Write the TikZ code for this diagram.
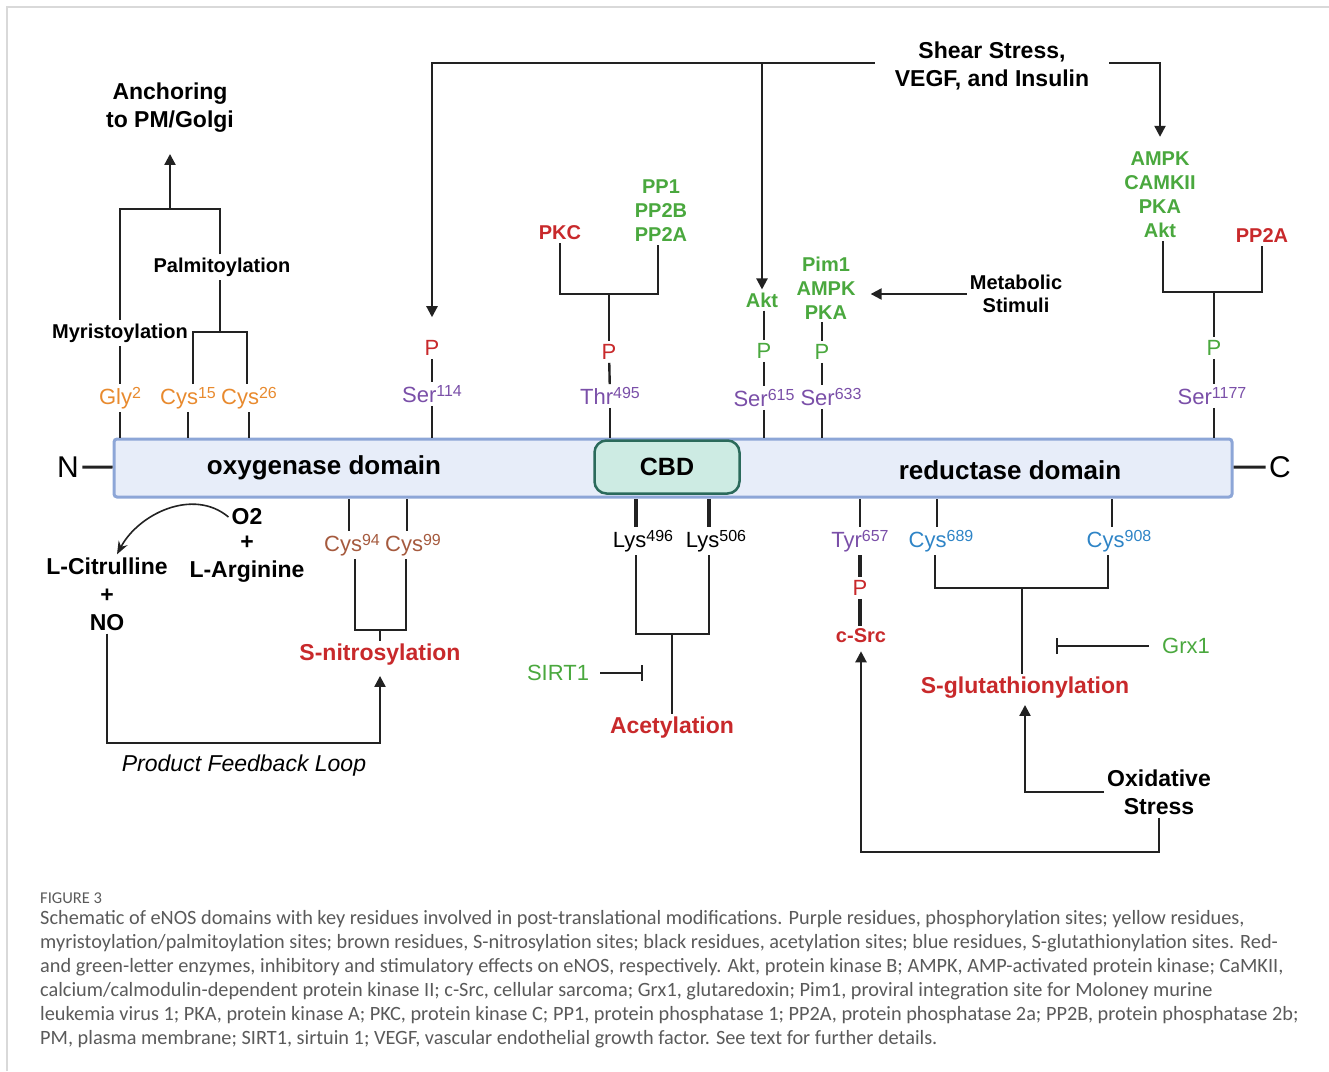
\documentclass[tikz,border=0pt]{standalone}
\usepackage{fontspec}
\setmainfont{Liberation Sans}
\newfontfamily\capfont{Carlito}
\usetikzlibrary{positioning, arrows.meta}
\definecolor{ink}{HTML}{222222}
\definecolor{ptmred}{HTML}{C8292B}
\definecolor{ptmgreen}{HTML}{4AA83E}
\definecolor{ptmpurple}{HTML}{7A4FA8}
\definecolor{ptmorange}{HTML}{E88A2E}
\definecolor{ptmbrown}{HTML}{A55A3E}
\definecolor{ptmblue}{HTML}{2E84C6}
\definecolor{barfill}{HTML}{E7EDF9}
\definecolor{barline}{HTML}{8DA6D7}
\definecolor{cbdfill}{HTML}{CDEBE3}
\definecolor{cbdline}{HTML}{2B6A5B}
\definecolor{capgray}{HTML}{5A5A5A}
\newcommand{\rsup}[1]{\raisebox{6pt}{\fontsize{16}{16}\selectfont #1}}
\tikzset{
>={Triangle[length=11pt,width=11pt]}, % filled arrow heads
link/.style={draw=ink, line width=2.2pt}, % brackets and arrows
tick/.style={draw=ink, line width=2.4pt}, % short ticks at the residues
fat/.style={draw=ink, line width=4.6pt}, % thick ticks
inh/.style={draw=ink, line width=2.2pt, -{Bar[width=16pt]}}, % inhibition
lab/.style={font=\fontsize{20}{24}\selectfont\bfseries, align=center, inner sep=3pt}, % enzymes
head/.style={font=\fontsize{23}{28}\selectfont\bfseries, align=center, inner sep=3pt}, % headings
res/.style={font=\fontsize{22}{24}\selectfont, inner sep=3pt}, % residues and P
}
\begin{document}
\begin{tikzpicture}[x=1pt, y=-1pt]
\useasboundingbox (0,0) rectangle (1329,1071);
\draw[black!15, line width=1.2pt] (7,1071) -- (7,7) -- (1329,7);

% protein
\node[draw=barline, fill=barfill, line width=3pt, rounded corners=3pt, minimum width=1118pt, minimum height=58pt] (bar) at (673,468) {};
\node[draw=cbdline, fill=cbdfill, line width=2.5pt, rounded corners=12pt, minimum width=145pt, minimum height=53pt, font=\fontsize{25}{25}\selectfont\bfseries] (cbd) at (667,467) {CBD};
\node[font=\fontsize{26}{26}\selectfont\bfseries] (oxy) at (324,468) {oxygenase domain};
\node[font=\fontsize{26}{26}\selectfont\bfseries] (red) at (1010,470) {reductase domain};
\node[font=\fontsize{30}{30}\selectfont] (nterm) at (68,467) {N};
\node[font=\fontsize{30}{30}\selectfont] (cterm) at (1280,467) {C};
\draw[link, line width=3pt] (nterm) -- (bar);
\draw[link, line width=3pt] (bar) -- (cterm);

% myristoylation / palmitoylation
\node[head] (anch) at (170,108) {Anchoring\\to PM/Golgi};
\node[lab] (myr) at (120,333) {Myristoylation};
\node[lab] (pal) at (222,267) {Palmitoylation};
\node[res, text=ptmorange] (gly2) at (120,398) {Gly\rsup{2}};
\node[res, text=ptmorange] (cys15) at (188,398) {Cys\rsup{15}};
\node[res, text=ptmorange] (cys26) at (249,398) {Cys\rsup{26}};
\coordinate (palb) at (220,332);
\coordinate (anj) at (170,209);
\draw[tick] (gly2.south) -- (gly2.south |- bar.north);
\draw[tick] (cys15.south) -- (cys15.south |- bar.north);
\draw[tick] (cys26.south) -- (cys26.south |- bar.north);
\draw[tick] (gly2.north) -- (myr.south);
\draw[link] ([xshift=5pt]cys15.north) |- (palb) -| ([xshift=-2pt]cys26.north);
\draw[link] (palb) -- (palb |- pal.south);
\draw[link] (palb |- pal.north) |- (anj) -| (myr.north);
\draw[link, ->, shorten >=18pt] (anj) -- (anch.south);

% phosphorylation sites
\node[head, inner xsep=20pt] (shear) at (992,66) {Shear Stress,\\VEGF, and Insulin};
\coordinate (sL) at ([yshift=3pt]shear.west);
\coordinate (sR) at ([yshift=3pt]shear.east);
\node[res, text=ptmred] (p114) at (432,348) {P};
\node[res, text=ptmpurple] (ser114) at (432,394) {Ser\rsup{114}};
\draw[tick] (p114) -- (ser114);
\draw[tick] (ser114.south) -- (ser114.south |- bar.north);
\draw[link, ->, shorten >=20pt] (sL) -| (p114.north);

\node[lab, text=ptmred] (pkc) at (560,233) {PKC};
\node[lab, text=ptmgreen] (ppase) at (661,211) {PP1\\PP2B\\PP2A};
\node[res, text=ptmred] (p495) at (609,352) {P};
\node[res, text=ptmpurple] (thr495) at (610,396) {Thr\rsup{495}};
\coordinate (thrj) at (609,294);
\draw[link] (pkc.south) |- (thrj) -| ([xshift=-3pt]ppase.south);
\draw[link] (thrj) -- (p495.north);
\draw[tick] (p495) -- (thr495);
\draw[tick] (thr495.south) -- (thr495.south |- bar.north);

\node[lab, text=ptmgreen] (akt) at (762,300) {Akt};
\node[res, text=ptmgreen] (p615) at (764,351) {P};
\node[res, text=ptmpurple] (ser615) at (764,398) {Ser\rsup{615}};
\draw[tick] (akt.south -| p615) -- (p615.north);
\draw[tick] (p615) -- (ser615);
\draw[tick] (ser615.south) -- (ser615.south |- bar.north);
\draw[link, ->] (akt.north |- sL) -- (akt.north);

\node[lab, text=ptmgreen] (pim) at (826,288) {Pim1\\AMPK\\PKA};
\node[head, font=\fontsize{20}{23}\selectfont\bfseries] (meta) at (1016,294) {Metabolic\\Stimuli};
\node[res, text=ptmgreen] (p633) at (822,352) {P};
\node[res, text=ptmpurple] (ser633) at (831,397) {Ser\rsup{633}};
\draw[tick] (p633.north |- pim.south) -- (p633.north);
\draw[tick] (p633.south) -- (p633.south |- ser633.north);
\draw[tick] (p633.south |- ser633.south) -- (p633.south |- bar.north);
\draw[link, ->, shorten >=12pt] (meta.west) -- (meta.west -| pim.east);

\node[lab, text=ptmgreen] (kin) at (1160,195) {AMPK\\CAMKII\\PKA\\Akt};
\node[lab, text=ptmred] (pp2a) at (1262,236) {PP2A};
\node[res, text=ptmgreen] (p1177) at (1214,348) {P};
\node[res, text=ptmpurple] (ser1177) at (1212,396) {Ser\rsup{1177}};
\coordinate (serj) at (1214,292);
\draw[link] ([xshift=3pt]kin.south) |- (serj) -| (pp2a.south);
\draw[link] (serj) -- (p1177.north);
\draw[tick] (p1177.south) -- (p1177.south |- ser1177.north);
\draw[tick] (p1177.south |- ser1177.south) -- (p1177.south |- bar.north);
\draw[link, ->, shorten >=12pt] (sR) -| (kin.north);

% S-nitrosylation
\node[res, text=ptmbrown] (cys94) at (352,545) {Cys\rsup{94}};
\node[res, text=ptmbrown] (cys99) at (413,545) {Cys\rsup{99}};
\node[head, text=ptmred] (snit) at (380,655) {S-nitrosylation};
\coordinate (snj) at (380,630);
\draw[tick] ([xshift=-3pt]cys94.north) -- ([xshift=-3pt]cys94.north |- bar.south);
\draw[tick] ([xshift=-6pt]cys99.north) -- ([xshift=-6pt]cys99.north |- bar.south);
\draw[link] ([xshift=3pt]cys94.south) |- (snj) -| ([xshift=-7pt]cys99.south);
\draw[link] (snj) -- (snit.north);

\node[head] (citr) at (107,594) {L-Citrulline\\+\\NO};
\node[head] (o2) at (247,517) {O2};
\node[head] (larg) at (247,559) {+\\L-Arginine};
\draw[draw=ink, line width=1.6pt, -{Stealth[length=13pt,width=10pt]}] (o2.west) to[out=140, in=62] ([xshift=10pt]citr.north);
\coordinate (fb) at (244,743);
\node[font=\fontsize{23}{23}\selectfont\itshape, below=8pt of fb] (loop) {Product Feedback Loop};
\draw[link, ->, shorten >=7pt] (citr.south) |- (fb) -| (snit.south);

% acetylation
\node[res, text=black] (lys496) at (643,541) {Lys\rsup{496}};
\node[res, text=black] (lys506) at (716,541) {Lys\rsup{506}};
\node[head, text=ptmred] (acet) at (672,728) {Acetylation};
\node[res, text=ptmgreen] (sirt) at (558,673) {SIRT1};
\coordinate (acj) at (672,634);
\draw[fat] ([xshift=-7pt]lys496.north) -- ([xshift=-7pt]lys496.north |- bar.south);
\draw[fat] ([xshift=-7pt]lys506.north) -- ([xshift=-7pt]lys506.north |- bar.south);
\draw[link] ([xshift=-7pt]lys496.south) |- (acj) -| ([xshift=-7pt]lys506.south);
\draw[link] (acj) -- (acet.north);
\draw[inh, shorten <=8pt, shorten >=29pt] (sirt.east) -- (sirt.east -| acj);

% c-Src
\node[res, text=ptmpurple] (tyr657) at (860,541) {Tyr\rsup{657}};
\node[res, text=ptmred] (p657) at (860,588) {P};
\node[lab, text=ptmred] (csrc) at (861,636) {c-Src};
\draw[tick] (tyr657.north) -- (tyr657.north |- bar.south);
\draw[fat] (tyr657.south) -- (p657.north);
\draw[fat] (p657.south) -- (p657.south |- csrc.north);

% S-glutathionylation
\node[res, text=ptmblue] (cys689) at (941,541) {Cys\rsup{689}};
\node[res, text=ptmblue] (cys908) at (1119,541) {Cys\rsup{908}};
\node[head, text=ptmred] (sglu) at (1025,688) {S-glutathionylation};
\node[res, text=ptmgreen] (grx) at (1186,646) {Grx1};
\node[head] (oxs) at (1159,792) {Oxidative\\Stress};
\coordinate (glj) at (1022,588);
\draw[tick] ([xshift=-4pt]cys689.north) -- ([xshift=-4pt]cys689.north |- bar.south);
\draw[tick] ([xshift=-7pt]cys908.north) -- ([xshift=-7pt]cys908.north |- bar.south);
\draw[link] ([xshift=-6pt]cys689.south) |- (glj) -| ([xshift=-11pt]cys908.south);
\draw[link] (glj) -- (glj |- sglu.north);
\draw[inh, shorten <=10pt, shorten >=34pt] (grx.west) -- (grx.west -| glj);
\draw[link, ->, shorten >=3pt] (oxs.west) -| (sglu.south);
\draw[link, ->, shorten >=5pt] (oxs.south) -- ++(0,34) -| (csrc.south);

% caption
\node[anchor=west, inner sep=0pt, text=capgray, font=\capfont\fontsize{16.5}{16.5}\selectfont] (fig) at (40,898) {FIGURE 3};
\node[anchor=north west, inner sep=0pt, align=left, text=capgray, font=\capfont\fontsize{20.3}{24}\selectfont] (caption) at (40,910) {Schematic of eNOS domains with key residues involved in post-translational modifications. Purple residues, phosphorylation sites; yellow residues,\\
myristoylation/palmitoylation sites; brown residues, S-nitrosylation sites; black residues, acetylation sites; blue residues, S-glutathionylation sites. Red-\\
and green-letter enzymes, inhibitory and stimulatory effects on eNOS, respectively. Akt, protein kinase B; AMPK, AMP-activated protein kinase; CaMKII,\\
calcium/calmodulin-dependent protein kinase II; c-Src, cellular sarcoma; Grx1, glutaredoxin; Pim1, proviral integration site for Moloney murine\\
leukemia virus 1; PKA, protein kinase A; PKC, protein kinase C; PP1, protein phosphatase 1; PP2A, protein phosphatase 2a; PP2B, protein phosphatase 2b;\\
PM, plasma membrane; SIRT1, sirtuin 1; VEGF, vascular endothelial growth factor. See text for further details.};
\end{tikzpicture}
\end{document}
